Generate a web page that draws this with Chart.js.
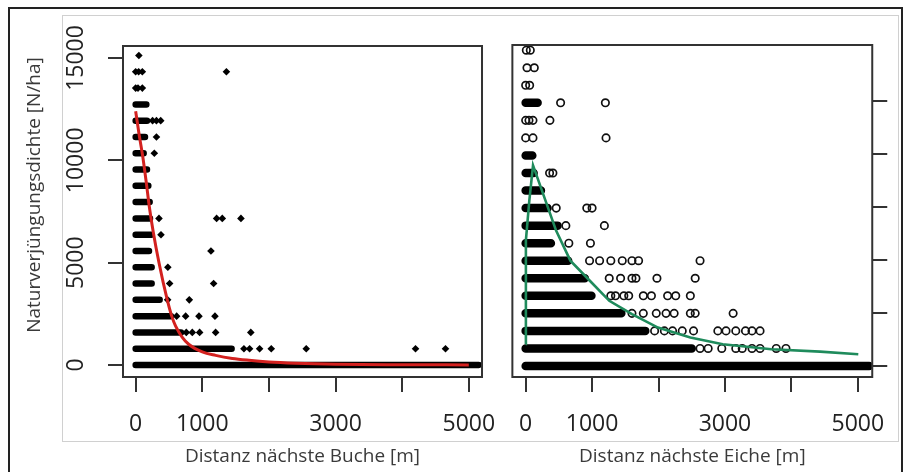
<!DOCTYPE html>
<html>
<head>
<meta charset="utf-8">
<script src="https://cdn.jsdelivr.net/npm/chart.js@4.4.1/dist/chart.umd.min.js"></script>
<style>
  html, body { margin: 0; padding: 0; background: #fff; }
  body { width: 904px; height: 472px; position: relative; overflow: hidden; }
  #outer { position: absolute; left: 8px; top: 7px; width: 891px; height: 480px; border: 2px solid #222; }
  #inner { position: absolute; left: 62px; top: 15px; width: 835px; height: 425px; border: 1px solid #d0d0d0; }
  canvas { position: absolute; top: 0; }
  #left { left: 0; }
  #right { left: 500px; }
</style>
</head>
<body>
<div id="outer"></div>
<div id="inner"></div>
<canvas id="left" width="515" height="472"></canvas>
<canvas id="right" width="404" height="472"></canvas>
<script>
// Dichte Zeilen: [N/ha, von Distanz, bis Distanz]
const bucheRuns = [
  [0, 0, 5150], [796, 0, 1440], [1592, 0, 680], [2387, 0, 530], [3183, 0, 360],
  [3979, 0, 240], [4775, 0, 240], [5570, 0, 200], [6366, 0, 235], [7162, 0, 215],
  [7958, 0, 210], [8754, 0, 190], [9549, 0, 170], [10345, 0, 120], [11141, 0, 140],
  [11937, 0, 170], [12732, 0, 160]
];
// Einzelpunkte: [Distanz, N/ha]
const bucheDots = [
  [1625, 796], [1710, 796], [1860, 796], [2035, 796], [2560, 796], [4200, 796], [4650, 796],
  [760, 1592], [850, 1592], [960, 1592], [1200, 1592], [1728, 1592],
  [615, 2387], [750, 2387], [950, 2387], [1190, 2387],
  [480, 3183], [805, 3183],
  [510, 3979], [1170, 3979],
  [483, 4775],
  [1130, 5570],
  [380, 6366],
  [350, 7162], [1215, 7162], [1300, 7162], [1580, 7162],
  [280, 10345],
  [312, 11141],
  [254, 11937], [312, 11937], [376, 11937],
  [0, 13528], [35, 13528], [100, 13528],
  [0, 14324], [45, 14324], [100, 14324], [1362, 14324],
  [48, 15120]
];
const bucheFitX = [0, 50, 107, 160, 205, 264, 351, 469, 540, 600, 700, 800, 1000, 1200, 1450, 1700, 2000, 2400, 3000, 4000, 5000];
const bucheFitY = [12400, 11300, 10176, 8900, 7733, 6500, 4983, 3250, 2400, 1900, 1350, 1000, 640, 470, 320, 230, 150, 90, 40, 15, 5];

const eicheRuns = [
  [0, 0, 5170], [796, 0, 2500], [1592, 0, 1800], [2387, 0, 1440], [3183, 0, 990],
  [3979, 0, 890], [4775, 0, 640], [5570, 0, 380], [6366, 0, 480], [7162, 0, 330],
  [7958, 0, 230], [8754, 0, 120], [9549, 0, 100], [11937, 0, 180]
];
const eicheDots = [
  [2625, 796], [2747, 796], [2952, 796], [3163, 796], [3260, 796], [3407, 796], [3528, 796], [3772, 796], [3918, 796],
  [1941, 1592], [2088, 1592], [2211, 1592], [2357, 1592], [2527, 1592], [2893, 1592], [3016, 1592], [3163, 1592], [3309, 1592], [3407, 1592], [3528, 1592],
  [1600, 2387], [1771, 2387], [1966, 2387], [2113, 2387], [2235, 2387], [2479, 2387], [2552, 2387], [3123, 2387],
  [1282, 3183], [1352, 3183], [1478, 3183], [1551, 3183], [1771, 3183], [1893, 3183], [2137, 3183], [2259, 3183], [2479, 3183],
  [1258, 3979], [1429, 3979], [1600, 3979], [1660, 3979], [1976, 3979], [2552, 3979],
  [962, 4775], [1113, 4775], [1282, 4775], [1454, 4775], [1600, 4775], [1700, 4775], [2625, 4775],
  [650, 5570], [975, 5570],
  [605, 6366], [1185, 6366],
  [460, 7162], [920, 7162], [1000, 7162],
  [360, 8754], [410, 8754],
  [0, 10345], [110, 10345], [1210, 10345],
  [0, 11141], [50, 11141], [110, 11141], [365, 11141],
  [526, 11937], [1200, 11937],
  [0, 12732], [60, 12732],
  [20, 13528], [130, 13528],
  [10, 14324], [70, 14324]
];
const eicheFitX = [0, 2, 5, 55, 111, 458, 673, 966, 1259, 1600, 1991, 2479, 2967, 3699, 4431, 5007];
const eicheFitY = [1000, 3500, 5700, 7500, 9100, 6142, 4777, 3867, 2957, 2352, 1743, 1288, 987, 760, 651, 532];

const xTicks = [0, 1000, 2000, 3000, 4000, 5000];
const xTickLabels = ["0", "1000", "", "3000", "", "5000"];
const yTicksBuche = [0, 5000, 10000, 15000];
const yTicksEiche = [0, 2400, 4800, 7200, 9600, 12000];

Chart.defaults.font.family = '"Open Sans", sans-serif';
Chart.defaults.animation = false;

function runsToData(runs) {
  const out = [];
  runs.forEach(([y, a, b]) => {
    out.push({ x: a, y: y }, { x: b, y: y }, { x: b, y: null });
  });
  return out;
}

const framePlugin = {
  id: "frame",
  afterDatasetsDraw(chart) {
    const { ctx, chartArea: a } = chart;
    ctx.save();
    ctx.strokeStyle = "#333";
    ctx.lineWidth = 2;
    ctx.strokeRect(a.left, a.top, a.right - a.left, a.bottom - a.top);
    ctx.restore();
  }
};

// y-Beschriftung senkrecht wie in R
const yLabelPlugin = {
  id: "ylabels",
  afterDraw(chart) {
    const ctx = chart.ctx;
    const ys = chart.scales.y;
    ctx.save();
    ctx.fillStyle = "#222";
    ctx.textAlign = "center";
    ctx.textBaseline = "middle";
    ctx.font = '23px "Open Sans"';
    yTicksBuche.forEach((v) => {
      ctx.save();
      ctx.translate(76, ys.getPixelForValue(v));
      ctx.rotate(-Math.PI / 2);
      ctx.fillText(String(v), 0, 0);
      ctx.restore();
    });
    ctx.font = '19px "Open Sans"';
    ctx.fillStyle = "#3a3a3a";
    ctx.translate(35, 195);
    ctx.rotate(-Math.PI / 2);
    ctx.fillText("Naturverjüngungsdichte [N/ha]", 0, 0);
    ctx.restore();
  }
};

function xScale(min, max, title) {
  return {
    type: "linear",
    min: min,
    max: max,
    afterBuildTicks: (s) => { s.ticks = xTicks.map((v) => ({ value: v })); },
    afterFit: (s) => { s.height = 95; },
    ticks: {
      callback: (v, i) => xTickLabels[i],
      font: { size: 23 },
      color: "#222",
      padding: 19,
      maxRotation: 0,
      autoSkip: false
    },
    grid: { drawOnChartArea: false, drawTicks: true, tickLength: 15, color: "#333", lineWidth: 2 },
    border: { display: false },
    title: { display: true, text: title, font: { size: 19 }, color: "#3a3a3a", padding: { top: 0, bottom: 4 } }
  };
}

function yScale(min, max, ticks, pos, width) {
  return {
    type: "linear",
    position: pos,
    min: min,
    max: max,
    afterBuildTicks: (s) => { s.ticks = ticks.map((v) => ({ value: v })); },
    afterFit: (s) => { s.width = width; },
    ticks: { display: false },
    grid: { drawOnChartArea: false, drawTicks: true, tickLength: 15, color: "#333", lineWidth: 2 },
    border: { display: false }
  };
}

// Buche
new Chart(document.getElementById("left"), {
  type: "scatter",
  data: {
    datasets: [
      {
        data: bucheFitX.map((x, i) => ({ x: x, y: bucheFitY[i] })),
        showLine: true, pointRadius: 0, borderColor: "#d3211f", borderWidth: 3,
        cubicInterpolationMode: "monotone"
      },
      {
        data: bucheDots.map(([x, y]) => ({ x: x, y: y })),
        pointStyle: "rectRot", pointRadius: 3.8, pointBackgroundColor: "#000", pointBorderWidth: 0
      },
      {
        data: runsToData(bucheRuns),
        showLine: true, spanGaps: false, pointRadius: 0, borderColor: "#000", borderWidth: 6.5,
        borderCapStyle: "round"
      }
    ]
  },
  options: {
    responsive: false,
    devicePixelRatio: 1,
    layout: { padding: { top: 46, left: 0, right: 24, bottom: 0 } },
    plugins: { legend: { display: false }, tooltip: { enabled: false } },
    scales: {
      x: xScale(-190, 5198, "Distanz nächste Buche [m]"),
      y: yScale(-586, 15584, yTicksBuche, "left", 123)
    }
  },
  plugins: [framePlugin, yLabelPlugin]
});

// Eiche
new Chart(document.getElementById("right"), {
  type: "scatter",
  data: {
    datasets: [
      {
        data: eicheFitX.map((x, i) => ({ x: x, y: eicheFitY[i] })),
        showLine: true, pointRadius: 0, borderColor: "#1f8b5c", borderWidth: 2.6, tension: 0
      },
      {
        data: eicheDots.map(([x, y]) => ({ x: x, y: y })),
        pointStyle: "circle", pointRadius: 3.7, pointBackgroundColor: "rgba(0,0,0,0)",
        pointBorderColor: "#111", pointBorderWidth: 1.7
      },
      {
        data: runsToData(eicheRuns),
        showLine: true, spanGaps: false, pointRadius: 0, borderColor: "#000", borderWidth: 8.5,
        borderCapStyle: "round"
      }
    ]
  },
  options: {
    responsive: false,
    devicePixelRatio: 1,
    layout: { padding: { top: 45, left: 7, right: 0, bottom: 0 } },
    plugins: { legend: { display: false }, tooltip: { enabled: false } },
    scales: {
      x: xScale(-200, 5217, "Distanz nächste Eiche [m]"),
      y: yScale(-500, 14559, yTicksEiche, "right", 27)
    }
  },
  plugins: [framePlugin]
});
</script>
</body>
</html>
